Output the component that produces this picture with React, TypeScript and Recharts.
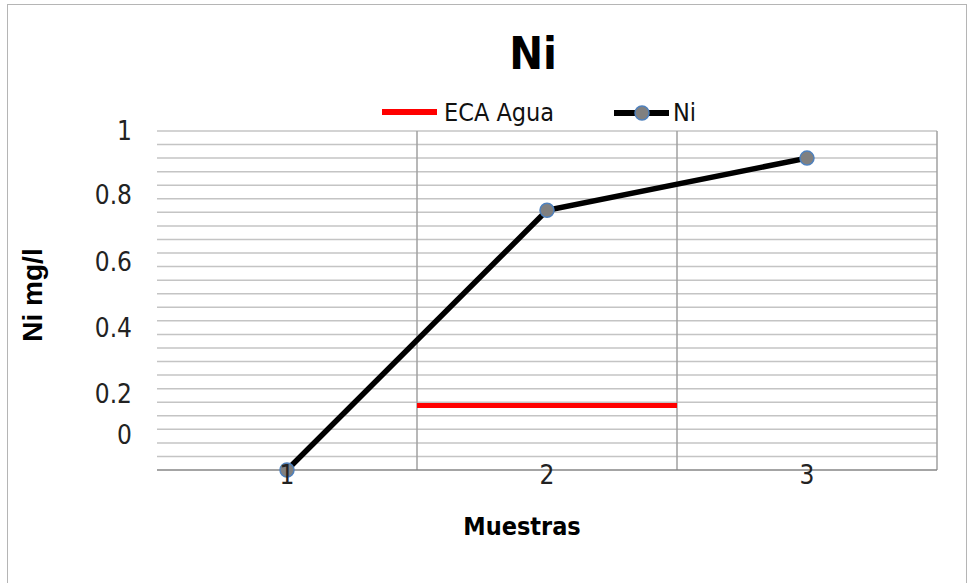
import React from 'react'
import { LineChart, Line, XAxis, YAxis, ReferenceLine } from 'recharts'

// samples and values
const samples = [1, 2, 3]
const niValues = [0, 0.766, 0.92]
const ecaLimit = 0.19
const ecaSpan = [1.5, 2.5]
const sampleBounds = [1.5, 2.5, 3.5]

// y tick labels (drawn where the original shows them)
const yTickValues = [1, 0.81, 0.615, 0.42, 0.225, 0.103]
const yTickLabels = ['1', '0.8', '0.6', '0.4', '0.2', '0']
const gridTicks = [
  0.04, 0.08, 0.12, 0.16, 0.2, 0.24, 0.28, 0.32, 0.36, 0.4, 0.44, 0.48,
  0.52, 0.56, 0.6, 0.64, 0.68, 0.72, 0.76, 0.8, 0.84, 0.88, 0.92, 0.96, 1,
]

const seriesNames = ['ECA Agua', 'Ni']

const NARROW = "'DejaVu Sans Condensed', 'Liberation Sans Narrow', sans-serif"
const SANS = "'Liberation Sans', Arial, sans-serif"

const data = samples.map((s, i) => ({ sample: s, ni: niValues[i] }))
const ecaData = ecaSpan.map((s) => ({ sample: s, eca: ecaLimit }))

const YTick = ({ x, y, payload }: any) => {
  const idx = yTickValues.indexOf(payload.value)
  return (
    <text x={x} y={y} dy={9} textAnchor="end" fill="#222" fontFamily={NARROW} fontSize={26}>
      {yTickLabels[idx]}
    </text>
  )
}

const XTick = ({ x, y, payload }: any) => (
  <text x={x} y={y} dy={14} textAnchor="middle" fill="#222" fontFamily={NARROW} fontSize={26}>
    {payload.value}
  </text>
)

export default function App() {
  return (
    <div style={{ position: 'absolute', left: 0, top: 0, width: 971, height: 583, background: '#fff', overflow: 'hidden' }}>
      <div style={{ position: 'absolute', left: 7, top: 4, width: 958, height: 600, border: '1px solid #b5b5b5' }} />
      <div style={{ position: 'absolute', left: 0, top: 0 }}>
        <LineChart width={971} height={583} margin={{ top: 131, right: 34, bottom: 112, left: 156 }}>
          <XAxis
            dataKey="sample"
            type="number"
            domain={[0.5, 3.5]}
            ticks={samples}
            height={1}
            tickLine={false}
            tickSize={0}
            tickMargin={0}
            axisLine={{ stroke: '#868686', strokeWidth: 1.5 }}
            tick={<XTick />}
          />
          <YAxis
            yAxisId="val"
            type="number"
            domain={[0, 1]}
            ticks={yTickValues}
            width={1}
            tickSize={0}
            tickMargin={25}
            axisLine={false}
            tickLine={false}
            tick={<YTick />}
            interval={0}
          />
          {gridTicks.map((t) => (
            <ReferenceLine key={`g${t}`} yAxisId="val" y={t} stroke="#c4c4c4" strokeWidth={1.5} />
          ))}
          {sampleBounds.map((b) => (
            <ReferenceLine key={b} yAxisId="val" x={b} stroke="#a0a0a0" strokeWidth={1.5} />
          ))}
          <Line
            yAxisId="val"
            data={ecaData}
            dataKey="eca"
            name={seriesNames[0]}
            stroke="#ff0000"
            strokeWidth={5}
            dot={false}
            isAnimationActive={false}
          />
          <Line
            yAxisId="val"
            data={data}
            dataKey="ni"
            name={seriesNames[1]}
            stroke="#000"
            strokeWidth={5.5}
            dot={{ r: 7, fill: '#808080', stroke: '#4f81bd', strokeWidth: 1.5 }}
            isAnimationActive={false}
          />
        </LineChart>
      </div>
      <svg width={971} height={583} style={{ position: 'absolute', left: 0, top: 0, pointerEvents: 'none' }}>
        <text x={533} y={69} textAnchor="middle" fontFamily={NARROW} fontWeight="bold" fontSize={45} fill="#000">
          Ni
        </text>
        {/* legend */}
        <line x1={382} x2={437} y1={112} y2={112} stroke="#ff0000" strokeWidth={6} />
        <text x={444} y={121} fontFamily={NARROW} fontSize={25} fill="#111">{seriesNames[0]}</text>
        <line x1={614} x2={669} y1={113} y2={113} stroke="#000" strokeWidth={6} />
        <circle cx={642} cy={113} r={7} fill="#808080" stroke="#4f81bd" strokeWidth={1.5} />
        <text x={673} y={121} fontFamily={NARROW} fontSize={25} fill="#111">{seriesNames[1]}</text>
        {/* axis titles */}
        <text
          x={42}
          y={295}
          transform="rotate(-90 42 295)"
          textAnchor="middle"
          fontFamily={SANS}
          fontWeight="bold"
          fontSize={28}
          fill="#000"
        >
          Ni mg/l
        </text>
        <text x={522} y={535} textAnchor="middle" fontFamily={NARROW} fontWeight="bold" fontSize={25} fill="#000">
          Muestras
        </text>
      </svg>
    </div>
  )
}
